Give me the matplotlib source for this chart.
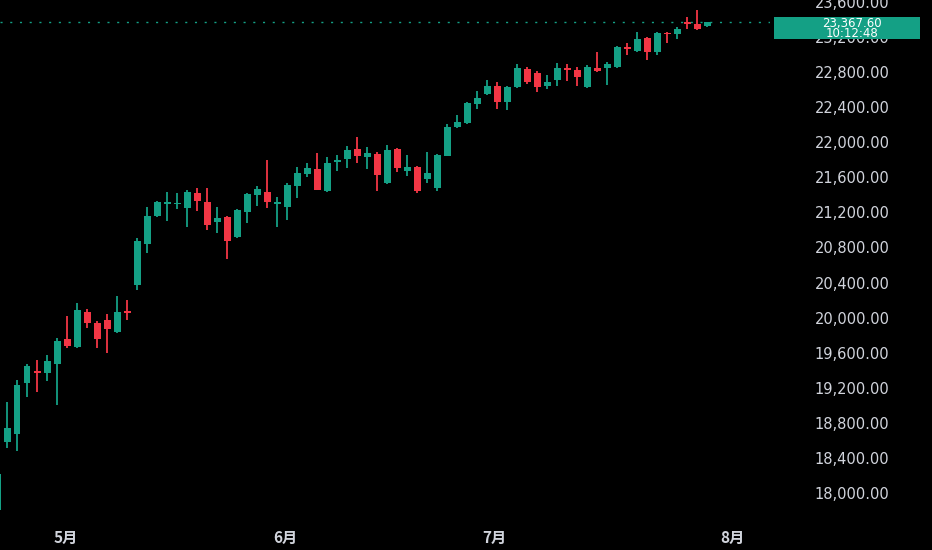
""" Daily candles with the last price tag, dark theme. """

import numpy as np
import matplotlib
matplotlib.use("Agg")
import matplotlib.pyplot as plt
from matplotlib.patches import Rectangle

GREEN = "#14a085"
RED = "#f23645"
TEXT = "#d1d4dc"

# daily OHLC
opens = [17807, 18582, 18673, 19255, 19391, 19369, 19471, 19756, 19665, 20064,
         19939, 19973, 19836, 20075, 20372, 20839, 21158, 21295, 21295, 21250,
         21421, 21318, 21090, 21147, 20919, 21204, 21398, 21432, 21295, 21261,
         21500, 21637, 21694, 21443, 21774, 21808, 21922, 21831, 21865, 21535,
         21922, 21671, 21717, 21580, 21478, 21842, 22173, 22219, 22435, 22549,
         22640, 22458, 22629, 22834, 22789, 22640, 22709, 22840, 22823, 22629,
         22846, 22846, 22857, 23085, 23039, 23188, 23028, 23245, 23233, 23370,
         23347, 23320]
highs = [18240, 19038, 19289, 19471, 19517, 19574, 19768, 20018, 20167, 20098,
         19961, 20041, 20246, 20201, 20908, 21261, 21329, 21432, 21421, 21455,
         21478, 21478, 21261, 21158, 21238, 21421, 21500, 21797, 21375, 21535,
         21717, 21763, 21877, 21831, 21854, 21956, 22059, 21945, 21888, 21968,
         21934, 21854, 21728, 21888, 21865, 22207, 22310, 22458, 22583, 22709,
         22686, 22640, 22891, 22857, 22811, 22766, 22903, 22891, 22857, 22880,
         23028, 22914, 23096, 23131, 23256, 23199, 23256, 23256, 23313, 23427,
         23507, 23372]
lows = [17773, 18514, 18479, 19095, 19152, 19277, 19004, 19654, 19654, 19882,
        19654, 19597, 19825, 19973, 20315, 20737, 21147, 21101, 21238, 21033,
        21215, 20999, 20965, 20668, 20908, 21079, 21272, 21250, 21033, 21113,
        21364, 21603, 21455, 21432, 21671, 21706, 21763, 21694, 21443, 21523,
        21660, 21614, 21421, 21535, 21443, 21842, 22162, 22207, 22378, 22538,
        22378, 22367, 22618, 22663, 22572, 22606, 22640, 22697, 22640, 22618,
        22800, 22652, 22846, 22994, 23028, 22937, 22994, 23131, 23176, 23290,
        23279, 23310]
closes = [18217, 18742, 19232, 19448, 19369, 19505, 19733, 19676, 20087, 19939,
          19756, 19870, 20064, 20053, 20873, 21158, 21318, 21318, 21307, 21432,
          21329, 21056, 21136, 20873, 21227, 21409, 21466, 21318, 21318, 21512,
          21649, 21706, 21455, 21763, 21797, 21911, 21842, 21877, 21626, 21911,
          21706, 21717, 21443, 21649, 21854, 22173, 22230, 22447, 22504, 22640,
          22458, 22629, 22846, 22686, 22629, 22686, 22846, 22828, 22743, 22857,
          22811, 22891, 23085, 23062, 23176, 23028, 23245, 23233, 23290, 23347,
          23290, 23367.6]

month_labels = ["5月", "6月", "7月", "8月"]
month_pos = [6.9, 28.8, 49.7, 73.5]
price_ticks = list(range(18000, 23601, 400))
countdown = "10:12:48"


def main(output_file):
    o = np.array(opens, dtype=float)
    h = np.array(highs, dtype=float)
    l = np.array(lows, dtype=float)
    c = np.array(closes, dtype=float)
    x = np.arange(len(o))
    cols = np.where(c >= o, GREEN, RED)

    fig = plt.figure(figsize=(9.32, 5.5), dpi=100, facecolor="black")
    ax = fig.add_axes([0, 30 / 550, 770 / 932, 520 / 550])
    ax.set_facecolor("black")

    ax.vlines(x, l, h, colors=cols, linewidth=1.3)
    body = np.maximum(np.abs(c - o), 14)
    ax.bar(x, body, bottom=np.minimum(o, c), width=0.7, color=cols, linewidth=0)

    # last price line
    ax.axhline(c[-1], color=GREEN, linestyle=(0, (1.5, 5.5)), linewidth=1)

    ax.set_xlim(0.3, 77.3)
    ax.set_ylim(17695, 23620)
    for s in ax.spines.values():
        s.set_visible(False)

    ax.yaxis.tick_right()
    ax.set_yticks(price_ticks, [f"{v:,.2f}" for v in price_ticks])
    ax.tick_params(axis="y", length=0, pad=59, colors=TEXT, labelsize=10.5)
    for lab in ax.get_yticklabels():
        lab.set_horizontalalignment("center")

    ax.set_xticks(month_pos, month_labels)
    ax.tick_params(axis="x", length=0, pad=7, colors=TEXT)
    for lab in ax.get_xticklabels():
        lab.set_family(["Noto Sans CJK SC", "DejaVu Sans"])
        lab.set_fontsize(11)
        lab.set_fontweight("bold")

    # price tag on the scale
    fig.patches.append(Rectangle((774 / 932, 1 - 39 / 550), 146 / 932, 22 / 550,
                                 transform=fig.transFigure, facecolor=GREEN,
                                 edgecolor="none", zorder=2))
    fig.text(852 / 932, 1 - 23 / 550, f"{c[-1]:,.2f}", color="white",
             ha="center", va="center", fontsize=8.5, zorder=3)
    fig.text(852 / 932, 1 - 33.5 / 550, countdown, color="white",
             ha="center", va="center", fontsize=8.5, zorder=3)

    fig.savefig(output_file, dpi=100, facecolor="black")


if __name__ == "__main__":
    main("out.png")
